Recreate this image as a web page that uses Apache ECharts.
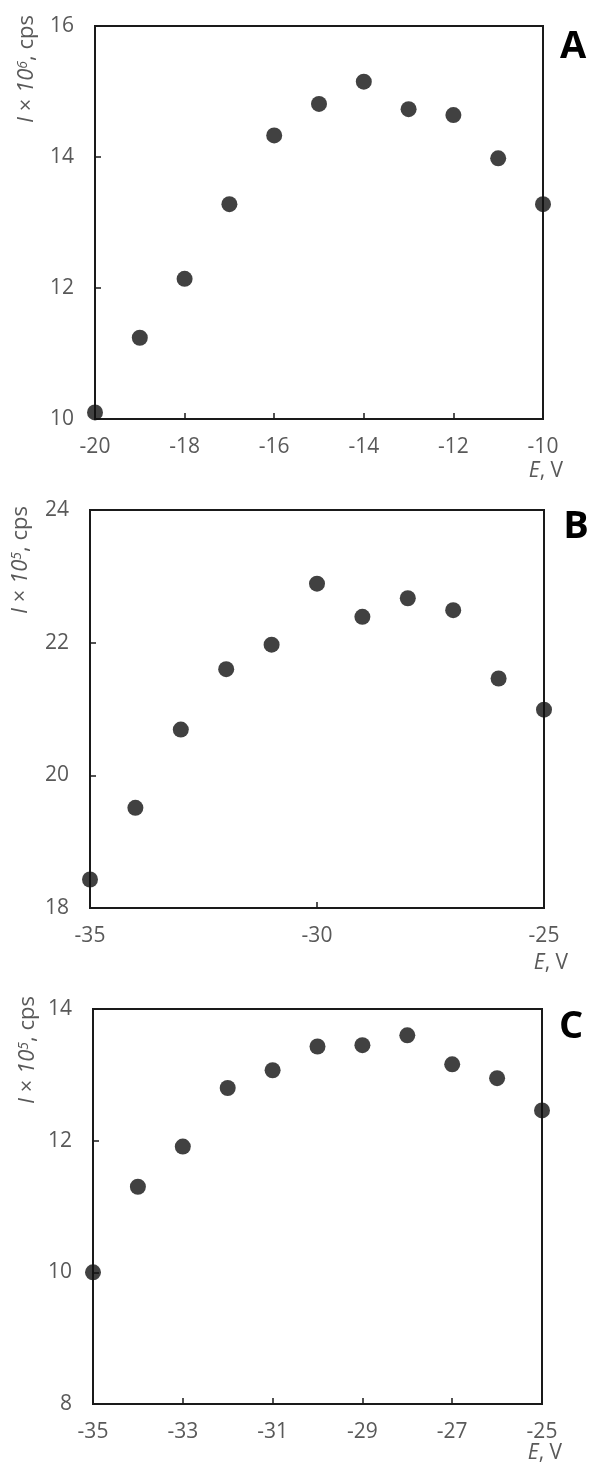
<!DOCTYPE html>
<html>
<head>
<meta charset="utf-8">
<script src="https://cdn.jsdelivr.net/npm/echarts@6/dist/echarts.min.js"></script>
<style>
html,body{margin:0;padding:0;background:#fff;}
#chart{width:589px;height:1468px;}
</style>
</head>
<body>
<div id="chart"></div>
<script>
// Panel A
var xA = [-20, -19, -18, -17, -16, -15, -14, -13, -12, -11, -10];
var yA = [10.10, 11.24, 12.14, 13.28, 14.33, 14.81, 15.15, 14.73, 14.64, 13.98, 13.28];
// Panel B
var xB = [-35, -34, -33, -32, -31, -30, -29, -28, -27, -26, -25];
var yB = [18.43, 19.51, 20.69, 21.60, 21.97, 22.89, 22.39, 22.67, 22.49, 21.46, 20.99];
// Panel C
var xC = [-35, -34, -33, -32, -31, -30, -29, -28, -27, -26, -25];
var yC = [10.00, 11.30, 11.91, 12.80, 13.07, 13.43, 13.45, 13.60, 13.16, 12.95, 12.46];

var panelLetters = ['A', 'B', 'C'];
var yNameExp = ['6', '5', '5'];
var xName = 'E';
var xUnit = ', V';

var xRanges = [[-20, -10, 2], [-35, -25, 5], [-35, -25, 2]];
var yRanges = [[10, 16, 2], [18, 24, 2], [8, 14, 2]];

var FONT = '"Open Sans", Lato, sans-serif';
var AX = '#1a1a1a';
var LBL = '#595959';

var grids = [
  {left: 95, width: 448, top: 26, height: 393},
  {left: 90, width: 454, top: 510, height: 398},
  {left: 93, width: 449, top: 1009, height: 395}
];

var chart = echarts.init(document.getElementById('chart'), null, {renderer: 'canvas'});

var xAxes = [], yAxes = [], series = [];
var datas = [[xA, yA], [xB, yB], [xC, yC]];
for (var i = 0; i < 3; i++) {
  xAxes.push({
    type: 'value', gridIndex: i,
    min: xRanges[i][0], max: xRanges[i][1], interval: xRanges[i][2],
    axisLine: {show: true, onZero: false, lineStyle: {color: AX, width: 2}},
    axisTick: {show: true, inside: true, length: 6, lineStyle: {color: AX, width: 1.5}},
    axisLabel: {color: LBL, fontSize: 21, fontFamily: FONT, margin: 18},
    splitLine: {show: false}
  });
  yAxes.push({
    type: 'value', gridIndex: i,
    min: yRanges[i][0], max: yRanges[i][1], interval: yRanges[i][2],
    axisLine: {show: true, onZero: false, lineStyle: {color: AX, width: 2}},
    axisTick: {show: true, inside: true, length: 6, lineStyle: {color: AX, width: 1.5}},
    axisLabel: {color: LBL, fontSize: 21, fontFamily: FONT, margin: 21},
    splitLine: {show: false}
  });
  series.push({
    type: 'scatter', xAxisIndex: i, yAxisIndex: i,
    symbol: 'circle', symbolSize: 16, clip: false,
    itemStyle: {color: '#111111'},
    data: datas[i][0].map(function (x, k) { return [x, datas[i][1][k]]; })
  });
}

var gridOpts = grids.map(function (g) {
  return Object.assign({show: true, borderColor: AX, borderWidth: 2, backgroundColor: 'transparent'}, g);
});

var yNamePos = [[27, 69], [21, 560], [28, 1050]];
var letterPos = [[573, 47], [576, 527], [571, 1027]];
var xNamePos = [[546, 471], [551, 963], [545, 1453]];

var graphics = [];
for (var j = 0; j < 3; j++) {
  graphics.push({
    type: 'text', x: yNamePos[j][0], y: yNamePos[j][1], rotation: Math.PI / 2,
    style: {
      text: '{i|I} × {i|10}{s|' + yNameExp[j] + '}, cps',
      align: 'center', verticalAlign: 'middle',
      fill: LBL, font: '22px ' + FONT,
      rich: {
        i: {fontStyle: 'italic', fontSize: 22, fontFamily: FONT, fill: LBL},
        s: {fontStyle: 'italic', fontSize: 14, fontFamily: FONT, fill: LBL, verticalAlign: 'top', padding: [0, 0, 8, 0]}
      }
    }
  });
  graphics.push({
    type: 'text', x: letterPos[j][0], y: letterPos[j][1],
    style: {
      text: panelLetters[j], align: 'center', verticalAlign: 'middle',
      fill: '#000', font: 'bold 38px ' + FONT
    }
  });
  graphics.push({
    type: 'text', x: xNamePos[j][0], y: xNamePos[j][1],
    style: {
      text: '{i|' + xName + '}' + xUnit, align: 'center', verticalAlign: 'middle',
      fill: LBL, font: '21px ' + FONT,
      rich: {i: {fontStyle: 'italic', fontSize: 21, fontFamily: FONT, fill: LBL}}
    }
  });
}

chart.setOption({
  animation: false,
  backgroundColor: '#ffffff',
  grid: gridOpts,
  xAxis: xAxes,
  yAxis: yAxes,
  series: series,
  graphic: graphics
});
</script>
</body>
</html>
